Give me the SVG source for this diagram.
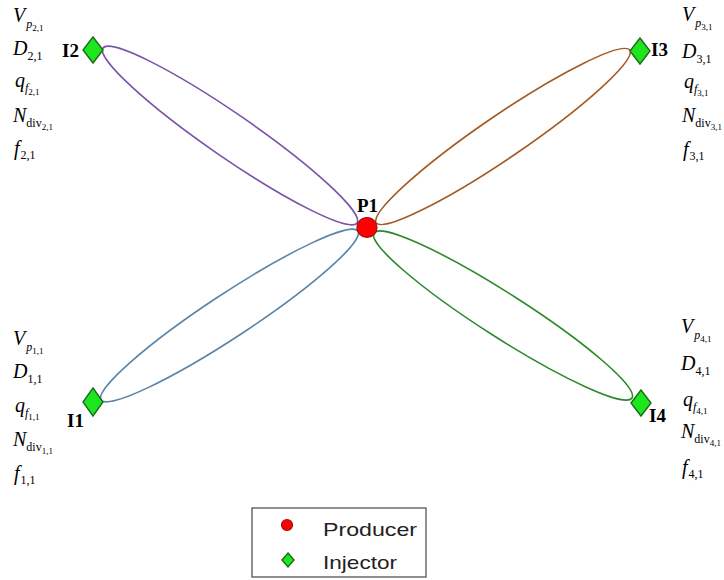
<svg xmlns="http://www.w3.org/2000/svg" width="724" height="580" viewBox="0 0 724 580">
<style>
.loop{fill:none;stroke-width:1.6}
.inj{fill:#1EE61E;stroke:#1D6A1D;stroke-width:1.4}
.prod{fill:#FF0000;stroke:#A01010;stroke-width:1.2}
.lbl{font-family:"Liberation Serif",serif;font-weight:bold;font-size:19px;fill:#000}
.v{font-family:"Liberation Serif",serif;font-size:20px;fill:#000;font-style:italic}
.s{font-size:12px}
.ss{font-size:9px;font-style:normal}
.up{font-style:normal}
.leg{font-family:"Liberation Sans",Arial,sans-serif;font-size:19px;fill:#222}
</style>
<rect width="724" height="580" fill="#fff"/>
<g id="connectors">
<path class="loop" stroke="#7A52A8" d="M103,48 A154.2,22 34.56 0 1 357,223 A154.2,22 34.56 0 1 103,48 Z"/>
<path class="loop" stroke="#A45A22" d="M630,50 A153.7,22 -34.26 0 1 376,223 A153.7,22 -34.26 0 1 630,50 Z"/>
<path class="loop" stroke="#5A84A8" d="M101,400 A153.8,22 -33.33 0 1 358,231 A153.8,22 -33.33 0 1 101,400 Z"/>
<path class="loop" stroke="#2C8A2C" d="M632,398 A153.1,22 32.6 0 1 374,233 A153.1,22 32.6 0 1 632,398 Z"/>
</g>
<g id="P1">
<circle class="prod" cx="367" cy="227.5" r="10"/>
<text class="lbl" x="357" y="212">P1</text>
</g>
<g id="I2">
<polygon class="inj" points="93,37 103,50 93,63 83,50"/>
<text class="lbl" x="62" y="57">I2</text>
<text class="v" x="13" y="22">V<tspan class="s" dx="1" dy="6">p</tspan><tspan class="ss" dy="3">2,1</tspan></text>
<text class="v" x="13" y="55">D<tspan class="s up" dy="5">2,1</tspan></text>
<text class="v" x="15" y="87">q<tspan class="s" dy="5">f</tspan><tspan class="ss" dy="3">2,1</tspan></text>
<text class="v" x="13" y="122">N<tspan class="s up" dy="5">div</tspan><tspan class="ss" dy="3">2,1</tspan></text>
<text class="v" x="14" y="155">f<tspan class="s up" dx="1" dy="4">2,1</tspan></text>
</g>
<g id="I3">
<polygon class="inj" points="640,38 650,51 640,64 630,51"/>
<text class="lbl" x="651" y="56">I3</text>
<text class="v" x="682" y="21">V<tspan class="s" dx="1" dy="6">p</tspan><tspan class="ss" dy="3">3,1</tspan></text>
<text class="v" x="682" y="58">D<tspan class="s up" dy="5">3,1</tspan></text>
<text class="v" x="684" y="88">q<tspan class="s" dy="5">f</tspan><tspan class="ss" dy="3">3,1</tspan></text>
<text class="v" x="682" y="122">N<tspan class="s up" dy="5">div</tspan><tspan class="ss" dy="3">3,1</tspan></text>
<text class="v" x="683" y="156">f<tspan class="s up" dx="1" dy="4">3,1</tspan></text>
</g>
<g id="I1">
<polygon class="inj" points="93,388 103,402 93,416 83,402"/>
<text class="lbl" x="67" y="427">I1</text>
<text class="v" x="13" y="345">V<tspan class="s" dx="1" dy="6">p</tspan><tspan class="ss" dy="3">1,1</tspan></text>
<text class="v" x="13" y="378">D<tspan class="s up" dy="5">1,1</tspan></text>
<text class="v" x="15" y="412">q<tspan class="s" dy="5">f</tspan><tspan class="ss" dy="3">1,1</tspan></text>
<text class="v" x="13" y="446">N<tspan class="s up" dy="5">div</tspan><tspan class="ss" dy="3">1,1</tspan></text>
<text class="v" x="14" y="480">f<tspan class="s up" dx="1" dy="4">1,1</tspan></text>
</g>
<g id="I4">
<polygon class="inj" points="641,390 651,403 641,416 631,403"/>
<text class="lbl" x="649" y="422">I4</text>
<text class="v" x="681" y="333">V<tspan class="s" dx="1" dy="6">p</tspan><tspan class="ss" dy="3">4,1</tspan></text>
<text class="v" x="681" y="370">D<tspan class="s up" dy="5">4,1</tspan></text>
<text class="v" x="683" y="406">q<tspan class="s" dy="5">f</tspan><tspan class="ss" dy="3">4,1</tspan></text>
<text class="v" x="681" y="438">N<tspan class="s up" dy="5">div</tspan><tspan class="ss" dy="3">4,1</tspan></text>
<text class="v" x="682" y="474">f<tspan class="s up" dx="1" dy="4">4,1</tspan></text>
</g>
<g id="legend">
<rect x="252" y="508" width="174" height="69" fill="#fff" stroke="#555" stroke-width="1.3"/>
<circle class="prod" cx="287" cy="525" r="5.5"/>
<text class="leg" x="323" y="536" textLength="94" lengthAdjust="spacingAndGlyphs">Producer</text>
<polygon class="inj" points="288,553 294,560 288,567 282,560"/>
<text class="leg" x="323" y="569" textLength="74" lengthAdjust="spacingAndGlyphs">Injector</text>
</g>
</svg>
